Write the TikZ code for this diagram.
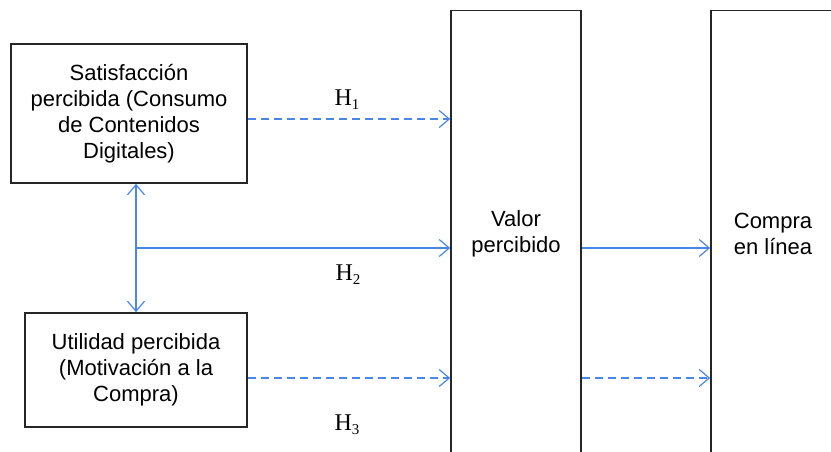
\documentclass[tikz,border=0pt]{standalone}
\usepackage{fontspec}
\setmainfont{Liberation Sans}
\newfontfamily\hserif{Liberation Serif}
\usetikzlibrary{arrows.meta}
\definecolor{arrowblue}{RGB}{74,134,232}
\begin{document}
\begin{tikzpicture}[x=1pt,y=-1pt,
  box/.style={draw=black!85, line width=1.7pt, align=center, inner sep=0pt,
    font=\fontsize{22}{26}\selectfont},
  link/.style={draw=arrowblue, line width=1.2pt, -{Straight Barb[length=10pt,width=17pt,line width=1.2pt]}},
  dlink/.style={link, dash pattern=on 8pt off 5pt},
  hlabel/.style={font=\hserif\fontsize{24}{26}\selectfont, inner sep=0pt}]
\useasboundingbox (0,0) rectangle (831,452);
\clip (0,0) rectangle (831,452);
\fill[white] (0,0) rectangle (831,452);
\node[box, minimum width=236pt, minimum height=139pt] (box1) at (129,113.5)
  {Satisfacción\\percibida (Consumo\\de Contenidos\\Digitales)};
\node[box, minimum width=222pt, minimum height=114pt] (box2) at (136,370)
  {Utilidad percibida\\(Motivación a la\\Compra)};
\node[box, minimum width=130pt, minimum height=447pt] (V) at (516,234)
  {Valor\\percibido};
\node[box, minimum width=124pt, minimum height=447pt] (C) at (773,234)
  {Compra\\en línea};
\coordinate (h1) at (0,119);
\coordinate (h2) at (136,248);
\coordinate (h3) at (0,378);
\draw[dlink] (box1.east |- h1) -- (V.west |- h1);
\draw[draw=arrowblue, line width=1.2pt, {Straight Barb[length=10pt,width=17pt,line width=1.2pt]}-{Straight Barb[length=10pt,width=17pt,line width=1.2pt]}]
  (h2 |- box1.south) -- (h2 |- box2.north);
\draw[link] (h2) -- (V.west |- h2);
\draw[dlink] (box2.east |- h3) -- (V.west |- h3);
\draw[link] (V.east |- h2) -- (C.west |- h2);
\draw[dlink] (V.east |- h3) -- (C.west |- h3);
\node[hlabel] (l1) at (347,100) {H\raisebox{-0.35ex}{\fontsize{15}{15}\selectfont 1}};
\node[hlabel] (l2) at (348,275) {H\raisebox{-0.35ex}{\fontsize{15}{15}\selectfont 2}};
\node[hlabel] (l3) at (347,425) {H\raisebox{-0.35ex}{\fontsize{15}{15}\selectfont 3}};
\end{tikzpicture}
\end{document}
